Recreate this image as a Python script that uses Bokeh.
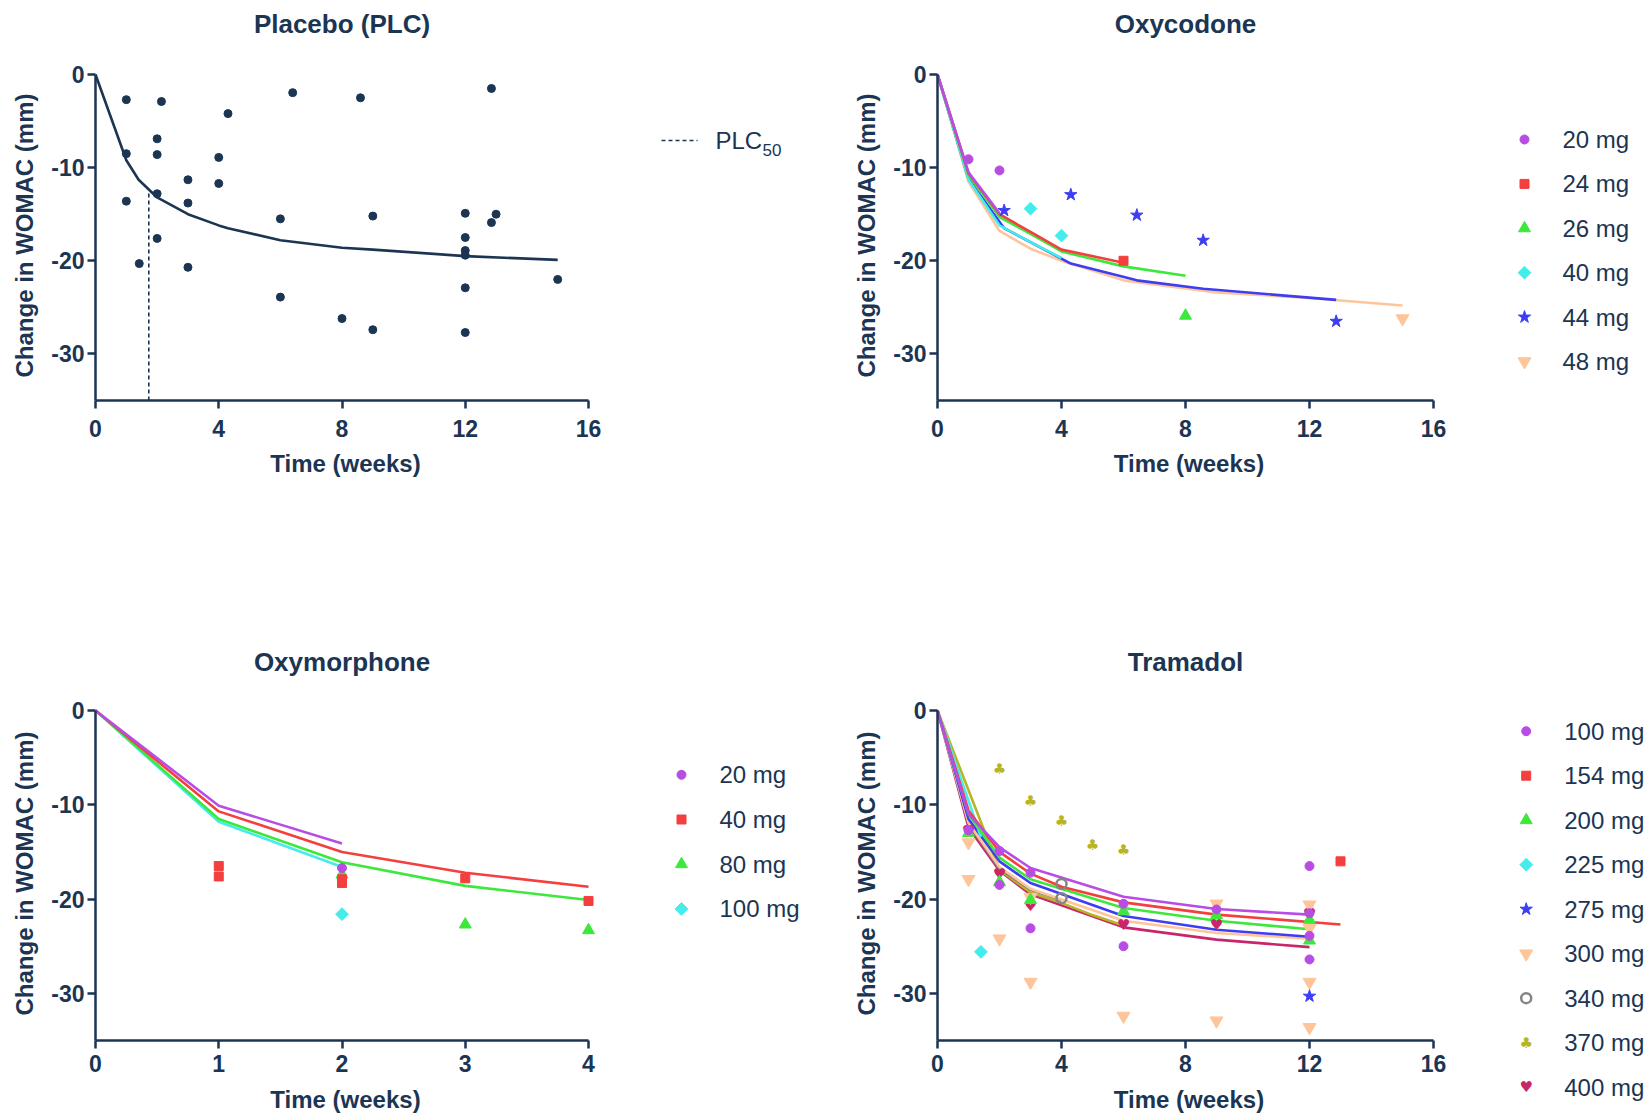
import math
from bokeh.plotting import figure
from bokeh.layouts import row, column
from bokeh.models import Range1d, FixedTicker
from bokeh.core.properties import value
from bokeh.embed import file_html
from bokeh.resources import INLINE

NAVY = "#1b3553"
FONT = "Liberation Sans"
SYM_FONT = "DejaVu Sans"

# ---------------- data ----------------
y_ticks = [0, -10, -20, -30]
y_tick_labels = ["0", "-10", "-20", "-30"]
week_ticks_16 = [0, 4, 8, 12, 16]
week_ticks_4 = [0, 1, 2, 3, 4]

# Placebo
plc_obs_t = [1, 1, 1, 1.42, 2, 2, 2, 2, 2.14, 3, 3, 3, 4, 4, 4.3, 6, 6, 6.4, 8, 8.6, 9, 9,
             12, 12, 12, 12, 12, 12, 12.85, 12.85, 13, 15]
plc_obs_v = [-2.7, -8.5, -13.6, -20.3, -6.9, -8.6, -12.8, -17.6, -2.9, -11.3, -13.8, -20.7,
             -8.9, -11.7, -4.2, -15.5, -23.9, -1.95, -26.2, -2.5, -15.2, -27.4,
             -14.9, -17.5, -18.9, -19.4, -22.9, -27.7, -1.5, -15.9, -15.0, -22.0]
plc_fit_t = [0, 1, 1.4, 2, 3, 4, 4.3, 6, 8, 9, 12, 15]
plc_fit_v = [0, -9.2, -11.3, -13.2, -15.0, -16.2, -16.5, -17.8, -18.6, -18.8, -19.5, -19.9]
plc50_t = [1.73, 1.73]
plc50_v = [-35, -12.6]
plc_legend = ["PLC", "50"]

# Series styles (shared order)
colors = ["#b84de3", "#f43f3f", "#3de83d", "#45ecec", "#3d3df2", "#ffc59a", "#858585", "#b7b523", "#c8256a"]
markers = ["circle", "square", "triangle", "diamond", "star", "inverted_triangle", "circle_open", "club", "heart"]

# Oxycodone
oxy_doses = ["20 mg", "24 mg", "26 mg", "40 mg", "44 mg", "48 mg"]
oxy_20_obs_t = [1.0, 2.0];  oxy_20_obs_v = [-9.1, -10.3]
oxy_24_obs_t = [6.0];       oxy_24_obs_v = [-20.0]
oxy_26_obs_t = [8.0];       oxy_26_obs_v = [-25.9]
oxy_40_obs_t = [3.0, 4.0];  oxy_40_obs_v = [-14.4, -17.3]
oxy_44_obs_t = [2.15, 4.3, 6.43, 8.57, 12.86]
oxy_44_obs_v = [-14.6, -12.9, -15.1, -17.8, -26.5]
oxy_48_obs_t = [15.0];      oxy_48_obs_v = [-26.2]
oxy_20_fit_t = [0, 1, 2];   oxy_20_fit_v = [0, -10.5, -14.9]
oxy_24_fit_t = [0, 1, 2, 3, 4, 6]
oxy_24_fit_v = [0, -10.6, -15.0, -16.9, -18.8, -20.2]
oxy_26_fit_t = [0, 1, 2, 3, 4, 6, 8]
oxy_26_fit_v = [0, -10.8, -15.3, -17.1, -19.0, -20.6, -21.6]
oxy_40_fit_t = [0, 1, 2, 3, 4]
oxy_40_fit_v = [0, -11.3, -16.2, -18.0, -19.7]
oxy_44_fit_t = [0, 1, 2.15, 4.3, 6.43, 8.57, 12.86]
oxy_44_fit_v = [0, -11.2, -16.5, -20.3, -22.1, -23.0, -24.2]
oxy_48_fit_t = [0, 1, 2, 3, 4, 6, 9, 12, 15]
oxy_48_fit_v = [0, -11.5, -16.8, -18.7, -20.0, -22.1, -23.4, -24.0, -24.8]

# Oxymorphone
oxm_doses = ["20 mg", "40 mg", "80 mg", "100 mg"]
oxm_20_obs_t = [2];   oxm_20_obs_v = [-16.7]
oxm_40_obs_t = [1, 1, 2, 2, 3, 4]
oxm_40_obs_v = [-16.5, -17.6, -17.9, -18.3, -17.8, -20.2]
oxm_80_obs_t = [2, 3, 4];  oxm_80_obs_v = [-17.4, -22.7, -23.3]
oxm_100_obs_t = [2];  oxm_100_obs_v = [-21.6]
oxm_20_fit_t = [0, 1, 2];        oxm_20_fit_v = [0, -10.1, -14.1]
oxm_40_fit_t = [0, 1, 2, 3, 4];  oxm_40_fit_v = [0, -10.7, -15.0, -17.2, -18.7]
oxm_80_fit_t = [0, 1, 2, 3, 4];  oxm_80_fit_v = [0, -11.5, -16.1, -18.6, -20.1]
oxm_100_fit_t = [0, 1, 2];       oxm_100_fit_v = [0, -11.8, -16.6]

# Tramadol
tra_doses = ["100 mg", "154 mg", "200 mg", "225 mg", "275 mg", "300 mg", "340 mg", "370 mg", "400 mg"]
tra_100_obs_t = [1, 2, 2, 3, 3, 6, 6, 9, 12, 12, 12, 12]
tra_100_obs_v = [-12.7, -14.9, -18.5, -17.2, -23.1, -20.5, -25.0, -21.1, -16.5, -21.5, -23.9, -26.4]
tra_154_obs_t = [13];   tra_154_obs_v = [-16.0]
tra_200_obs_t = [1, 2, 3, 6, 9, 12, 12]
tra_200_obs_v = [-13.0, -18.2, -20.1, -21.3, -21.7, -22.2, -24.4]
tra_225_obs_t = [1.4];  tra_225_obs_v = [-25.6]
tra_275_obs_t = [12];   tra_275_obs_v = [-30.3]
tra_300_obs_t = [1, 1, 2, 3, 3, 6, 9, 9, 12, 12, 12, 12]
tra_300_obs_v = [-14.0, -17.9, -24.2, -19.8, -28.8, -32.4, -20.5, -32.9, -20.6, -23.1, -28.8, -33.6]
tra_340_obs_t = [4, 4];  tra_340_obs_v = [-18.4, -19.9]
tra_370_obs_t = [2, 3, 4, 5, 6];  tra_370_obs_v = [-6.2, -9.55, -11.75, -14.3, -14.8]
tra_400_obs_t = [1, 2, 3, 6, 9, 12];  tra_400_obs_v = [-12.8, -17.3, -20.7, -22.7, -22.7, -21.6]
tra_100_fit_t = [0, 1, 2, 3, 6, 9, 12]
tra_100_fit_v = [0, -11.0, -14.5, -16.7, -19.75, -21.05, -21.65]
tra_154_fit_t = [0, 1, 2, 3, 4, 6, 9, 13]
tra_154_fit_v = [0, -10.6, -15.0, -17.3, -18.7, -20.35, -21.65, -22.7]
tra_200_fit_t = [0, 1, 2, 3, 6, 9, 12]
tra_200_fit_v = [0, -11.0, -15.6, -17.9, -20.95, -22.3, -23.2]
tra_225_fit_t = [0, 1.4]
tra_225_fit_v = [0, -13.4]
tra_275_fit_t = [0, 1, 2, 3, 6, 9, 12]
tra_275_fit_v = [0, -11.5, -16.0, -18.3, -21.8, -23.25, -24.0]
tra_300_fit_t = [0, 1, 2, 3, 6, 9, 12]
tra_300_fit_v = [0, -11.9, -16.6, -18.9, -22.3, -23.6, -24.2]
tra_340_fit_t = [0, 1, 2, 3, 4]
tra_340_fit_v = [0, -12.0, -16.8, -19.0, -20.1]
tra_370_fit_t = [0, 2, 3, 4, 5, 6]
tra_370_fit_v = [0, -16.9, -19.3, -20.4, -21.7, -22.8]
tra_400_fit_t = [0, 1, 2, 3, 6, 9, 12]
tra_400_fit_v = [0, -12.4, -17.0, -19.5, -23.0, -24.3, -25.1]

oxy_series = [
    (oxy_20_obs_t, oxy_20_obs_v, oxy_20_fit_t, oxy_20_fit_v),
    (oxy_24_obs_t, oxy_24_obs_v, oxy_24_fit_t, oxy_24_fit_v),
    (oxy_26_obs_t, oxy_26_obs_v, oxy_26_fit_t, oxy_26_fit_v),
    (oxy_40_obs_t, oxy_40_obs_v, oxy_40_fit_t, oxy_40_fit_v),
    (oxy_44_obs_t, oxy_44_obs_v, oxy_44_fit_t, oxy_44_fit_v),
    (oxy_48_obs_t, oxy_48_obs_v, oxy_48_fit_t, oxy_48_fit_v),
]
oxm_series = [
    (oxm_20_obs_t, oxm_20_obs_v, oxm_20_fit_t, oxm_20_fit_v),
    (oxm_40_obs_t, oxm_40_obs_v, oxm_40_fit_t, oxm_40_fit_v),
    (oxm_80_obs_t, oxm_80_obs_v, oxm_80_fit_t, oxm_80_fit_v),
    (oxm_100_obs_t, oxm_100_obs_v, oxm_100_fit_t, oxm_100_fit_v),
]
tra_series = [
    (tra_100_obs_t, tra_100_obs_v, tra_100_fit_t, tra_100_fit_v),
    (tra_154_obs_t, tra_154_obs_v, tra_154_fit_t, tra_154_fit_v),
    (tra_200_obs_t, tra_200_obs_v, tra_200_fit_t, tra_200_fit_v),
    (tra_225_obs_t, tra_225_obs_v, tra_225_fit_t, tra_225_fit_v),
    (tra_275_obs_t, tra_275_obs_v, tra_275_fit_t, tra_275_fit_v),
    (tra_300_obs_t, tra_300_obs_v, tra_300_fit_t, tra_300_fit_v),
    (tra_340_obs_t, tra_340_obs_v, tra_340_fit_t, tra_340_fit_v),
    (tra_370_obs_t, tra_370_obs_v, tra_370_fit_t, tra_370_fit_v),
    (tra_400_obs_t, tra_400_obs_v, tra_400_fit_t, tra_400_fit_v),
]

# ---------------- helpers ----------------
MARKER_SIZE = {"circle": 9, "square": 9, "triangle": 12, "diamond": 9, "star": 13,
               "inverted_triangle": 13, "circle_open": 10}
SYMBOL = {"club": "\u2663", "heart": "\u2665"}
PAD_R, PAD_T = 7, 4
FRAME_LEFT = 95


def draw_points(p, xs, ys, color, mk):
    if mk in SYMBOL:
        p.text(x=xs, y=ys, text=[SYMBOL[mk]] * len(xs), text_color=color,
               text_font=value(SYM_FONT), text_font_size="15px",
               text_align="center", text_baseline="middle")
    elif mk == "circle_open":
        p.scatter(xs, ys, marker="circle", size=MARKER_SIZE[mk], fill_color=None,
                  line_color=color, line_width=2.5)
    elif mk == "diamond":
        p.scatter(xs, ys, marker="square", angle=math.pi / 4, size=MARKER_SIZE[mk],
                  fill_color=color, line_color=color, line_width=1)
    else:
        p.scatter(xs, ys, marker=mk, size=MARKER_SIZE[mk], fill_color=color,
                  line_color=color, line_width=1)


def title_fig(text, fig_w, fig_h, frame_w, x_range, xmax):
    """A strip above a panel whose frame lines up with the panel's frame; holds the title."""
    t = figure(width=fig_w, height=fig_h, x_range=x_range, y_range=Range1d(0, 1),
               toolbar_location=None, output_backend="svg",
               min_border_left=FRAME_LEFT, min_border_right=fig_w - FRAME_LEFT - frame_w - PAD_R,
               min_border_top=0, min_border_bottom=0,
               x_axis_location=None, y_axis_location=None)
    t.grid.visible = False
    t.outline_line_color = None
    t.text(x=[xmax / 2], y=[0.5], text=[text], text_font=value(FONT), text_font_style="bold",
           text_font_size="26px", text_color=NAVY, text_align="center", text_baseline="middle")
    return t


def panel(fig_w, fig_h, frame_top, frame_w, frame_bottom, xmax, xticks,
          tick_standoff, label_standoff):
    frame_h = frame_bottom - frame_top
    x_end = xmax * (frame_w + PAD_R) / frame_w
    y_end = 35.0 * PAD_T / frame_h
    p = figure(width=fig_w, height=fig_h, x_range=Range1d(0, x_end), y_range=Range1d(-35, y_end),
               toolbar_location=None, output_backend="svg",
               min_border_left=FRAME_LEFT, min_border_right=fig_w - FRAME_LEFT - frame_w - PAD_R,
               min_border_top=frame_top - PAD_T, min_border_bottom=fig_h - frame_bottom)
    p.outline_line_color = None
    p.grid.visible = False
    p.xaxis.ticker = FixedTicker(ticks=xticks)
    p.yaxis.ticker = FixedTicker(ticks=y_ticks)
    p.yaxis.major_label_overrides = dict(zip(y_ticks, y_tick_labels))
    p.xaxis.major_label_overrides = {t: str(t) for t in xticks}
    p.xaxis.bounds = (0, xmax)
    p.yaxis.bounds = (-35, 0)
    p.xaxis.axis_label = "Time (weeks)"
    p.yaxis.axis_label = "Change in WOMAC (mm)"
    for ax in p.xaxis + p.yaxis:
        ax.axis_line_color = NAVY
        ax.axis_line_width = 2.5
        ax.major_tick_line_color = NAVY
        ax.major_tick_line_width = 2.5
        ax.major_tick_in = 0
        ax.major_tick_out = 8
        ax.minor_tick_line_color = None
        ax.major_label_text_font = FONT
        ax.major_label_text_font_style = "bold"
        ax.major_label_text_font_size = "23px"
        ax.major_label_text_color = NAVY
        ax.axis_label_text_font = FONT
        ax.axis_label_text_font_style = "bold"
        ax.axis_label_text_font_size = "24px"
        ax.axis_label_text_color = NAVY
    p.xaxis.major_label_standoff = tick_standoff
    p.xaxis.axis_label_standoff = label_standoff
    p.yaxis.major_label_standoff = 3
    p.yaxis.axis_label_standoff = 10
    return p


def legend_fig(width, height, marker_x, first_row_y, row_step):
    yr = Range1d(start=(height - first_row_y) / row_step, end=-first_row_y / row_step)
    xr = Range1d(-marker_x, width - marker_x)
    p = figure(width=width, height=height, x_range=xr, y_range=yr, toolbar_location=None,
               output_backend="svg", min_border_left=0, min_border_right=0,
               min_border_top=0, min_border_bottom=0,
               x_axis_location=None, y_axis_location=None)
    p.grid.visible = False
    p.outline_line_color = None
    return p


def dose_legend(p, labels, cols, mks, text_dx, font_size):
    for i, (c, m) in enumerate(zip(cols, mks)):
        draw_points(p, [0], [i], c, m)
    p.text(x=[0] * len(labels), y=list(range(len(labels))), text=labels, x_offset=text_dx,
           text_font=value(FONT), text_font_size=font_size, text_color=NAVY,
           text_align="left", text_baseline="middle")


def drug_panel(p, series, cols, mks):
    # first-listed dose drawn last (on top), as in the original figure
    items = list(zip(series, cols, mks))[::-1]
    for (ot, ov, ft, fv), c, m in items:
        p.line(ft, fv, line_color=c, line_width=2.6, line_join="round")
    for (ot, ov, ft, fv), c, m in items:
        draw_points(p, ot, ov, c, m)


# ---------------- geometry (page px) ----------------
# column of panels: title strip 0..46, top panel 46..640, title strip 640..683, bottom panel 683..1115
T1_H, P1_H, T2_H, P2_H = 46, 594, 43, 432
P1_FT, P1_FB = 74 - 46, 400 - 46        # top panels' frame, local
P2_FT, P2_FB = 710 - 683, 1040 - 683    # bottom panels' frame, local
LEG1_H, LEG2_H = 560, 555
W_A, W_B, W_C, W_D = 605, 237, 608, 196
FW_A, FW_C = 493, 496

# ---------------- placebo ----------------
p_plc = panel(W_A, P1_H, P1_FT, FW_A, P1_FB, 16, week_ticks_16, 11, 10)
t_plc = title_fig("Placebo (PLC)", W_A, T1_H, FW_A, p_plc.x_range, 16)
p_plc.line(plc_fit_t, plc_fit_v, line_color=NAVY, line_width=2.6, line_join="round")
p_plc.line(plc50_t, plc50_v, line_color=NAVY, line_width=1.6, line_dash="4 3")
p_plc.scatter(plc_obs_t, plc_obs_v, marker="circle", size=8, fill_color=NAVY, line_color=NAVY)

l_plc = legend_fig(W_B, LEG1_H, 56, 140, 44.4)
l_plc.line([0, 36], [0, 0], line_color=NAVY, line_width=1.6, line_dash="4 3")
l_plc.text(x=[0], y=[0], text=[plc_legend[0]], x_offset=54, text_font=value(FONT),
           text_font_size="24px", text_color=NAVY, text_align="left", text_baseline="middle")
l_plc.text(x=[0], y=[0], text=[plc_legend[1]], x_offset=101, y_offset=9, text_font=value(FONT),
           text_font_size="17px", text_color=NAVY, text_align="left", text_baseline="middle")

# ---------------- oxycodone ----------------
p_oxy = panel(W_C, P1_H, P1_FT, FW_C, P1_FB, 16, week_ticks_16, 11, 10)
t_oxy = title_fig("Oxycodone", W_C, T1_H, FW_C, p_oxy.x_range, 16)
drug_panel(p_oxy, oxy_series, colors[:6], markers[:6])
l_oxy = legend_fig(W_D, LEG1_H, 74, 139, 44.4)
dose_legend(l_oxy, oxy_doses, colors[:6], markers[:6], 38, "24px")

# ---------------- oxymorphone ----------------
p_oxm = panel(W_A, P2_H, P2_FT, FW_A, P2_FB, 4, week_ticks_4, 6, 11)
t_oxm = title_fig("Oxymorphone", W_A, T2_H, FW_A, p_oxm.x_range, 4)
drug_panel(p_oxm, oxm_series, colors[:4], markers[:4])
l_oxm = legend_fig(W_B, LEG2_H, 76, 214.3, 44.7)
dose_legend(l_oxm, oxm_doses, colors[:4], markers[:4], 38, "24px")

# ---------------- tramadol ----------------
p_tra = panel(W_C, P2_H, P2_FT, FW_C, P2_FB, 16, week_ticks_16, 6, 11)
t_tra = title_fig("Tramadol", W_C, T2_H, FW_C, p_tra.x_range, 16)
drug_panel(p_tra, tra_series, colors, markers)
l_tra = legend_fig(W_D, LEG2_H, 75.7, 170.7, 44.5)
dose_legend(l_tra, tra_doses, colors, markers, 38, "24px")

layout = row(column(t_plc, p_plc, t_oxm, p_oxm), column(l_plc, l_oxm),
             column(t_oxy, p_oxy, t_tra, p_tra), column(l_oxy, l_tra))

with open("out.html", "w") as f:
    f.write(file_html(layout, INLINE))
